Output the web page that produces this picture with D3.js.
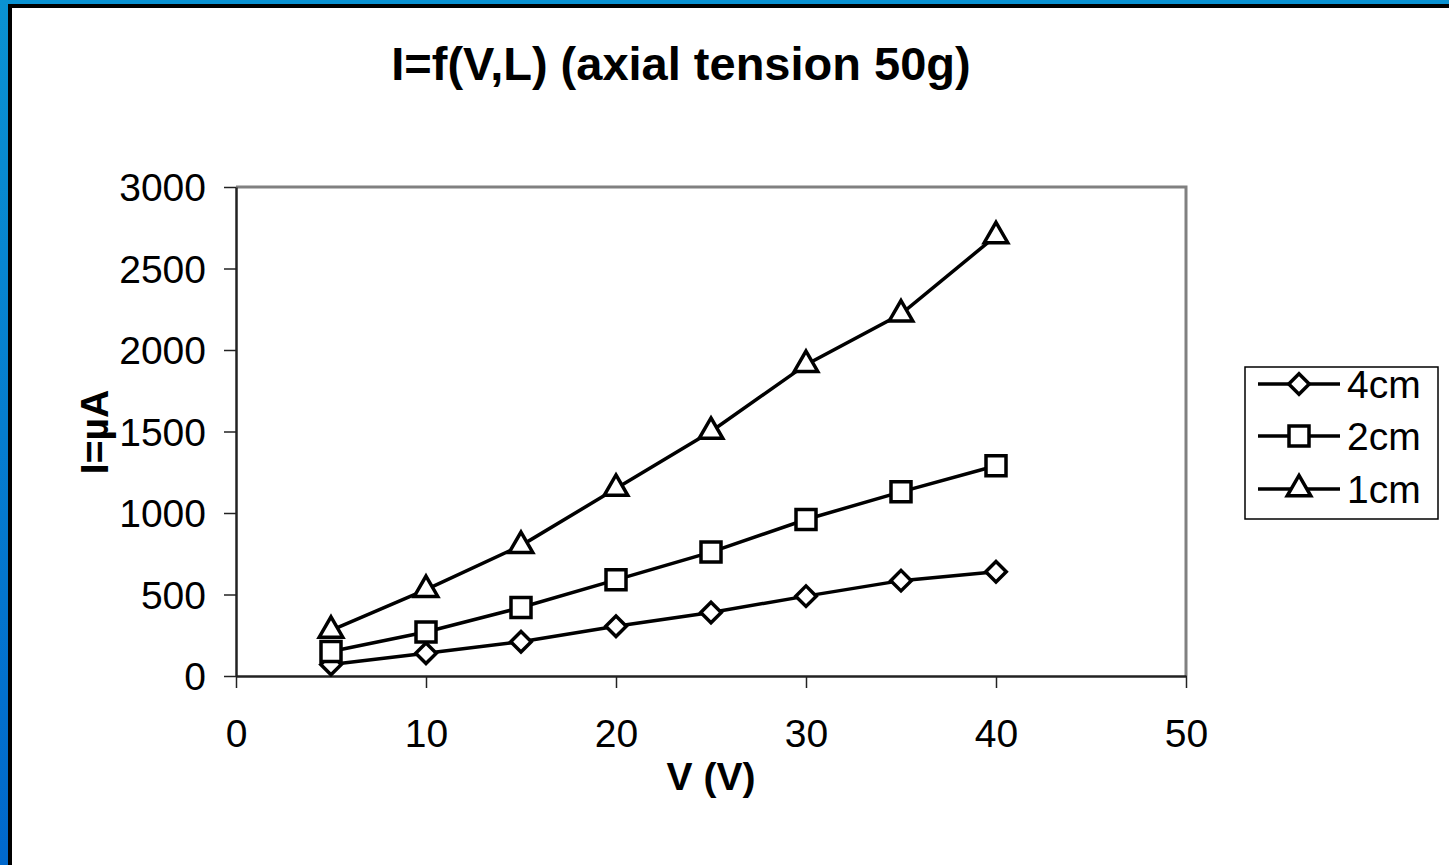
<!DOCTYPE html>
<html>
<head>
<meta charset="utf-8">
<script src="https://cdn.jsdelivr.net/npm/d3@7"></script>
<style>
  html, body { margin: 0; padding: 0; background: #fff; }
  svg { display: block; font-family: "Liberation Sans", Arial, sans-serif; }
</style>
</head>
<body>
<div id="chart"></div>
<script>
const voltages = [5, 10, 15, 20, 25, 30, 35, 40];
const current4cm = [70, 140, 210, 305, 390, 490, 585, 640];
const current2cm = [150, 270, 420, 590, 760, 960, 1130, 1290];
const current1cm = [280, 530, 800, 1150, 1500, 1910, 2220, 2700];
const seriesNames = ['4cm', '2cm', '1cm'];
const seriesShapes = ['diamond', 'square', 'triangle'];
const xTicks = [0, 10, 20, 30, 40, 50];
const yTicks = [0, 500, 1000, 1500, 2000, 2500, 3000];

const width = 1449;
const height = 865;
const plot = { left: 236, top: 187, right: 1186, bottom: 676 };
const fontSize = 39;
const strokeW = 3.5;

const svg = d3.select('#chart').append('svg')
  .attr('width', width).attr('height', height);

// blue frame
const grad = svg.append('defs').append('linearGradient')
  .attr('id', 'frameGrad').attr('x1', 0).attr('y1', 0).attr('x2', 0).attr('y2', 1);
grad.append('stop').attr('offset', '0%').attr('stop-color', '#0a92d2');
grad.append('stop').attr('offset', '100%').attr('stop-color', '#0068cc');
svg.append('rect').attr('x', 0).attr('y', 0).attr('width', width).attr('height', height).attr('fill', 'url(#frameGrad)');
svg.append('rect').attr('x', 8).attr('y', 4).attr('width', width).attr('height', height).attr('fill', '#000');
svg.append('rect').attr('x', 12).attr('y', 8).attr('width', width).attr('height', height).attr('fill', '#fff');

const x = d3.scaleLinear().domain([0, 50]).range([plot.left, plot.right]);
const y = d3.scaleLinear().domain([0, 3000]).range([plot.bottom, plot.top]);

// plot border (top/right gray)
svg.append('path')
  .attr('d', `M${plot.left},${plot.top}H${plot.right}V${plot.bottom}`)
  .attr('fill', 'none').attr('stroke', '#808080').attr('stroke-width', 3);

const xAxis = svg.append('g').attr('transform', `translate(0,${plot.bottom})`)
  .call(d3.axisBottom(x).tickValues(xTicks).tickFormat(d3.format('d'))
    .tickSize(12).tickSizeOuter(0).tickPadding(31));
const yAxis = svg.append('g').attr('transform', `translate(${plot.left},0)`)
  .call(d3.axisLeft(y).tickValues(yTicks).tickFormat(d3.format('d'))
    .tickSize(12).tickSizeOuter(0).tickPadding(18));

[xAxis, yAxis].forEach((g) => {
  g.select('.domain').attr('stroke', '#222').attr('stroke-width', 2.5);
  g.selectAll('.tick line').attr('stroke', '#222').attr('stroke-width', 1.5);
  g.selectAll('.tick text').attr('font-size', fontSize).attr('fill', '#000')
    .attr('font-family', '"Liberation Sans", Arial, sans-serif');
});
xAxis.selectAll('.tick text').attr('dy', '0.71em');
yAxis.selectAll('.tick text').attr('dy', '0.35em');

// titles
svg.append('text').attr('x', 681).attr('y', 80).attr('text-anchor', 'middle')
  .attr('font-size', 47).attr('font-weight', 'bold').text('I=f(V,L) (axial tension 50g)');
svg.append('text').attr('x', 711).attr('y', 790).attr('text-anchor', 'middle')
  .attr('font-size', fontSize).attr('font-weight', 'bold').text('V (V)');
svg.append('text').attr('transform', 'translate(108,432) rotate(-90)').attr('text-anchor', 'middle')
  .attr('font-size', fontSize).attr('font-weight', 'bold').text('I=µA');

const symbolFor = {
  diamond: d3.symbol().type(d3.symbolSquare).size(210),
  square: d3.symbol().type(d3.symbolSquare).size(400),
  triangle: d3.symbol().type(d3.symbolTriangle).size(240)
};
const rotFor = { diamond: 45, square: 0, triangle: 0 };

const series = [current4cm, current2cm, current1cm].map((vals, i) => ({
  name: seriesNames[i],
  shape: seriesShapes[i],
  points: vals.map((v, j) => ({ v: voltages[j], i: v }))
}));

const line = d3.line().x((d) => x(d.v)).y((d) => y(d.i));

const lineLayer = svg.append('g');
const markLayer = svg.append('g');

series.forEach((s) => {
  lineLayer.append('path').datum(s.points).attr('d', line)
    .attr('fill', 'none').attr('stroke', '#000').attr('stroke-width', strokeW);
});
series.forEach((s) => {
  markLayer.selectAll(null).data(s.points).join('path')
    .attr('d', symbolFor[s.shape]())
    .attr('transform', (d) => `translate(${x(d.v)},${y(d.i)}) rotate(${rotFor[s.shape]})`)
    .attr('fill', '#fff').attr('stroke', '#000').attr('stroke-width', strokeW);
});

// legend
const legend = svg.append('g');
legend.append('rect').attr('x', 1245).attr('y', 367).attr('width', 193).attr('height', 152)
  .attr('fill', '#fff').attr('stroke', '#000').attr('stroke-width', 1.5);
const legendRows = [384, 436, 489];
series.forEach((s, i) => {
  const ly = legendRows[i];
  legend.append('line').attr('x1', 1258).attr('x2', 1340).attr('y1', ly).attr('y2', ly)
    .attr('stroke', '#000').attr('stroke-width', strokeW);
  legend.append('path').attr('d', symbolFor[s.shape]())
    .attr('transform', `translate(1299,${ly}) rotate(${rotFor[s.shape]})`)
    .attr('fill', '#fff').attr('stroke', '#000').attr('stroke-width', strokeW);
  legend.append('text').attr('x', 1347).attr('y', ly).attr('dy', '0.35em')
    .attr('font-size', fontSize).text(s.name);
});
</script>
</body>
</html>
